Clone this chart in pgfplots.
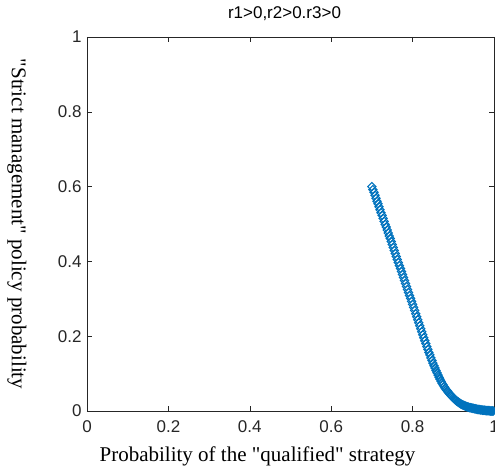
\documentclass[border=0pt]{standalone}
\usepackage{fontspec}
\setmainfont{Liberation Serif}[Ligatures=TeXOff]
\newfontfamily\arial{Liberation Sans}
\usepackage{pgfplots}
\pgfplotsset{compat=1.18}
\definecolor{mblue}{rgb}{0,0.447,0.741}
\definecolor{axgray}{rgb}{0.15,0.15,0.15}
\pgfplotstableread{
x y
0.7000 0.600
0.7025 0.592
0.7050 0.585
0.7075 0.577
0.7100 0.569
0.7125 0.561
0.7150 0.554
0.7175 0.546
0.7200 0.538
0.7225 0.530
0.7250 0.523
0.7275 0.515
0.7300 0.507
0.7325 0.499
0.7350 0.492
0.7375 0.484
0.7400 0.476
0.7425 0.468
0.7450 0.461
0.7475 0.453
0.7500 0.445
0.7525 0.437
0.7550 0.429
0.7575 0.421
0.7600 0.413
0.7625 0.405
0.7650 0.397
0.7675 0.389
0.7700 0.381
0.7725 0.373
0.7750 0.365
0.7775 0.357
0.7800 0.349
0.7825 0.341
0.7850 0.333
0.7875 0.325
0.7900 0.317
0.7925 0.309
0.7950 0.301
0.7975 0.293
0.8000 0.285
0.8025 0.277
0.8050 0.269
0.8075 0.260
0.8100 0.252
0.8125 0.244
0.8150 0.236
0.8175 0.228
0.8200 0.220
0.8225 0.212
0.8250 0.204
0.8275 0.196
0.8300 0.188
0.8325 0.180
0.8350 0.172
0.8375 0.165
0.8400 0.157
0.8425 0.150
0.8450 0.142
0.8475 0.135
0.8500 0.128
0.8525 0.121
0.8550 0.115
0.8575 0.108
0.8600 0.102
0.8625 0.096
0.8650 0.090
0.8675 0.085
0.8700 0.079
0.8725 0.074
0.8750 0.070
0.8775 0.065
0.8800 0.061
0.8825 0.057
0.8850 0.054
0.8875 0.050
0.8900 0.047
0.8925 0.044
0.8950 0.041
0.8975 0.038
0.9000 0.035
0.902 0.033
0.904 0.031
0.906 0.029
0.908 0.027
0.910 0.025
0.912 0.024
0.914 0.022
0.916 0.021
0.918 0.019
0.920 0.018
0.922 0.017
0.924 0.016
0.926 0.015
0.928 0.014
0.930 0.013
0.932 0.012
0.934 0.011
0.936 0.011
0.938 0.010
0.940 0.009
0.942 0.009
0.944 0.008
0.946 0.008
0.948 0.007
0.950 0.007
0.952 0.006
0.954 0.006
0.956 0.005
0.958 0.005
0.960 0.004
0.962 0.004
0.964 0.004
0.966 0.003
0.968 0.003
0.970 0.003
0.972 0.002
0.974 0.002
0.976 0.002
0.978 0.002
0.980 0.001
0.982 0.001
0.984 0.001
0.986 0.001
0.988 0.001
0.990 0.000
0.992 0.000
0.994 0.000
0.996 0.000
0.998 0.000
}\traj
\begin{document}
\begin{tikzpicture}
\begin{axis}[
    scale only axis,
    width=407pt, height=374pt,
    xmin=0, xmax=1, ymin=0, ymax=1,
    xtick={0,0.2,...,1}, ytick={0,0.2,...,1},
    tick align=inside,
    major tick length=5pt,
    clip=false,
    axis line style={axgray, line width=0.5pt},
    every tick/.style={axgray, line width=0.5pt},
    tick label style={font=\arial\fontsize{17}{20}\selectfont, text=axgray},
    xticklabel style={anchor=center, yshift=-16pt},
    yticklabel style={anchor=east, xshift=-2pt},
    /pgf/number format/assume math mode=true,
    title={r1>0,r2>0.r3>0},
    title style={font=\arial\fontsize{17}{20}\selectfont,
      at={(axis description cs:0.5,1)}, anchor=center, yshift=17pt, xshift=-6pt},
    xlabel={Probability of the "qualified" strategy},
    ylabel={"Strict management" policy probability},
    label style={font=\fontsize{21}{24}\selectfont},
    xlabel style={at={(axis description cs:0.5,0)}, anchor=center, yshift=-45pt, xshift=-33pt},
    ylabel style={at={(axis description cs:0,0.5)}, anchor=center, rotate=180, yshift=-70pt},
]
\addplot[only marks, color=mblue, mark=square, mark size=2.9pt,
  mark options={rotate=45, line width=1.1pt}] table {\traj};
\end{axis}
\pgfresetboundingbox
\path ([shift={(-87pt,-59pt)}]current axis.south west) rectangle ([shift={(1pt,37pt)}]current axis.north east);
\end{tikzpicture}
\end{document}
